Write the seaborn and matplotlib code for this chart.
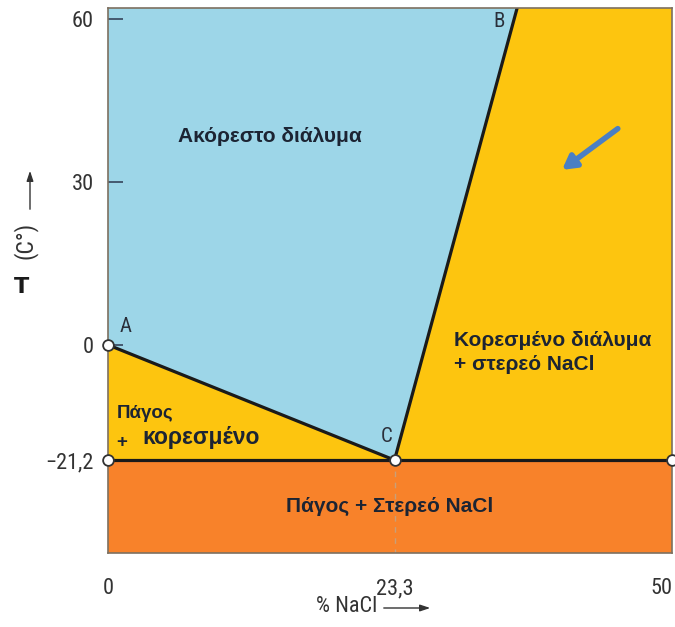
import numpy as np
import pandas as pd
import seaborn as sns
import matplotlib
matplotlib.use("Agg")
from matplotlib import pyplot as plt

# phase diagram NaCl - H2O (schematic)
x_ticks = [0, 23.3, 50]
x_tick_labels = ["0", "23,3", "50"]
y_ticks = [60, 30, 0, -21.2]
y_tick_labels = ["60", "30", "0", "\u221221,2"]

melt_T = 0.0           # A
eutectic_T = -21.2     # C
eutectic_x = 23.3      # C
B_x, B_T = 35.1, 62.0  # top of solubility curve
x_max = 50
y_min, y_max = -38.3, 62.0

point_x = [0, 0, eutectic_x, x_max]
point_y = [melt_T, eutectic_T, eutectic_T, eutectic_T]

# colours
c_blue = "#9dd6e8"
c_yellow = "#fdc50f"
c_orange = "#f8822a"
c_text = "#1c2433"


# axis is not linear in the original drawing: two linear pieces
def fwd(x):
    x = np.asarray(x, dtype=float)
    return np.where(x <= 23.3, x * 286.5 / 23.3,
                    286.5 + (x - 23.3) * (564 - 286.5) / 26.7)


def inv(p):
    p = np.asarray(p, dtype=float)
    return np.where(p <= 286.5, p * 23.3 / 286.5,
                    23.3 + (p - 286.5) * 26.7 / (564 - 286.5))


def main():
    sns.set_style("white")
    narrow = dict(family=["Roboto Condensed", "Liberation Sans Narrow",
                          "Liberation Sans"])
    greek = dict(family=["Liberation Sans", "DejaVu Sans"], weight="bold")

    fig = plt.figure(figsize=(6.75, 6.27), dpi=100)
    ax = fig.add_axes([108 / 675, 1 - 553 / 627, 564 / 675, 545 / 627])
    ax.set_xscale("function", functions=(fwd, inv))
    ax.set_xlim(0, x_max)
    ax.set_ylim(y_min, y_max)
    ax.set_axisbelow(False)

    # regions
    ax.fill([0, x_max, x_max, 0], [y_min, y_min, eutectic_T, eutectic_T],
            color=c_orange, lw=0, zorder=1)
    ax.fill([0, eutectic_x, 0], [melt_T, eutectic_T, eutectic_T],
            color=c_yellow, lw=0, zorder=1)
    ax.fill([0, 0, B_x, eutectic_x], [melt_T, y_max, y_max, eutectic_T],
            color=c_blue, lw=0, zorder=1)
    ax.fill([eutectic_x, B_x, x_max, x_max],
            [eutectic_T, y_max, y_max, eutectic_T],
            color=c_yellow, lw=0, zorder=1)

    # boundaries
    lines = pd.DataFrame({
        "x": [0, eutectic_x, eutectic_x, B_x, 0, x_max],
        "T": [melt_T, eutectic_T, eutectic_T, B_T, eutectic_T, eutectic_T],
        "seg": ["AC", "AC", "CB", "CB", "eu", "eu"],
    })
    sns.lineplot(data=lines, x="x", y="T", units="seg", estimator=None,
                 color="#1a1a1a", lw=2.3, sort=False, ax=ax, zorder=3)
    ax.plot([eutectic_x, eutectic_x], [eutectic_T, y_min], ls=(0, (4, 4)),
            color="#c8a07a", lw=1, zorder=2)

    pts = pd.DataFrame({"x": point_x, "T": point_y})
    sns.scatterplot(data=pts, x="x", y="T", s=60, color="white",
                    edgecolor="#333333", linewidth=1.3, ax=ax, zorder=5,
                    clip_on=False)

    # letters
    for lab, lx, ly in [("A", 1.4, 3.4), ("B", 33.4, 59.6), ("C", 22.7, -16.9)]:
        ax.text(lx, ly, lab, fontsize=15, color="#2a2f3a", ha="center",
                va="center", **narrow)

    # region labels
    ax.text(13.2, 38.3, "Ακόρεστο διάλυμα", fontsize=15,
            color=c_text, ha="center", va="center", **greek)
    ax.text(29.0, -1.4, "Κορεσμένο διάλυμα\n+ στερεό NaCl", fontsize=15,
            color=c_text, ha="left", va="center", linespacing=1.3, **greek)
    ax.text(22.9, -29.7, "Πάγος + Στερεό NaCl", fontsize=15,
            color=c_text, ha="center", va="center", **greek)
    ax.text(0.7, -12.6, "Πάγος", fontsize=13.5, color=c_text,
            ha="left", va="center", **greek)
    ax.text(0.7, -18.0, "+", fontsize=13.5, color=c_text,
            ha="left", va="center", **greek)
    ax.text(2.8, -17.0, "κορεσμένο", fontsize=16.5,
            color=c_text, ha="left", va="center", **greek)

    # blue arrow
    ax.annotate("", xy=(39.2, 31.9), xytext=(45.0, 40.1),
                arrowprops=dict(arrowstyle="-|>,head_length=0.8,head_width=0.45",
                                color="#4a7fc4", lw=4), zorder=6)

    # ticks
    ax.set_xticks(x_ticks)
    ax.set_xticklabels(x_tick_labels, fontsize=16, color="#333333", **narrow)
    ax.get_xticklabels()[-1].set_horizontalalignment("right")
    ax.set_yticks(y_ticks)
    ax.set_yticklabels(y_tick_labels, fontsize=16, color="#333333", **narrow)
    ax.tick_params(axis="y", left=True, direction="in", length=11, width=1.3,
                   color="#3d4f66", pad=10)
    ax.tick_params(axis="x", bottom=False, length=0, pad=18)
    ax.minorticks_off()
    ax.set_xlabel("")
    ax.set_ylabel("")
    for sp in ax.spines.values():
        sp.set_color("#7d7060")
        sp.set_linewidth(1.2)
        sp.set_zorder(4)

    # axis titles
    fig.text(377 / 675, 1 - 607 / 627, "% NaCl", fontsize=16,
             color="#333333", ha="right", va="center", **narrow)
    ax.annotate("", xy=(433, 627 - 608), xytext=(381, 627 - 608),
                xycoords="figure pixels", textcoords="figure pixels",
                arrowprops=dict(arrowstyle="-|>,head_length=0.6,head_width=0.2",
                                color="#333333", lw=1))
    fig.text(22 / 675, 1 - 287 / 627, "T", fontsize=16, weight="bold",
             color="#1a1a1a", ha="center", va="center")
    fig.text(25 / 675, 1 - 240 / 627, "(C°)", fontsize=17,
             color="#333333", rotation=90, ha="center", va="center", **narrow)
    ax.annotate("", xy=(30, 627 - 168), xytext=(30, 627 - 212),
                xycoords="figure pixels", textcoords="figure pixels",
                arrowprops=dict(arrowstyle="-|>,head_length=0.6,head_width=0.2",
                                color="#333333", lw=1))

    fig.savefig("out.png", dpi=100)


if __name__ == "__main__":
    main()
